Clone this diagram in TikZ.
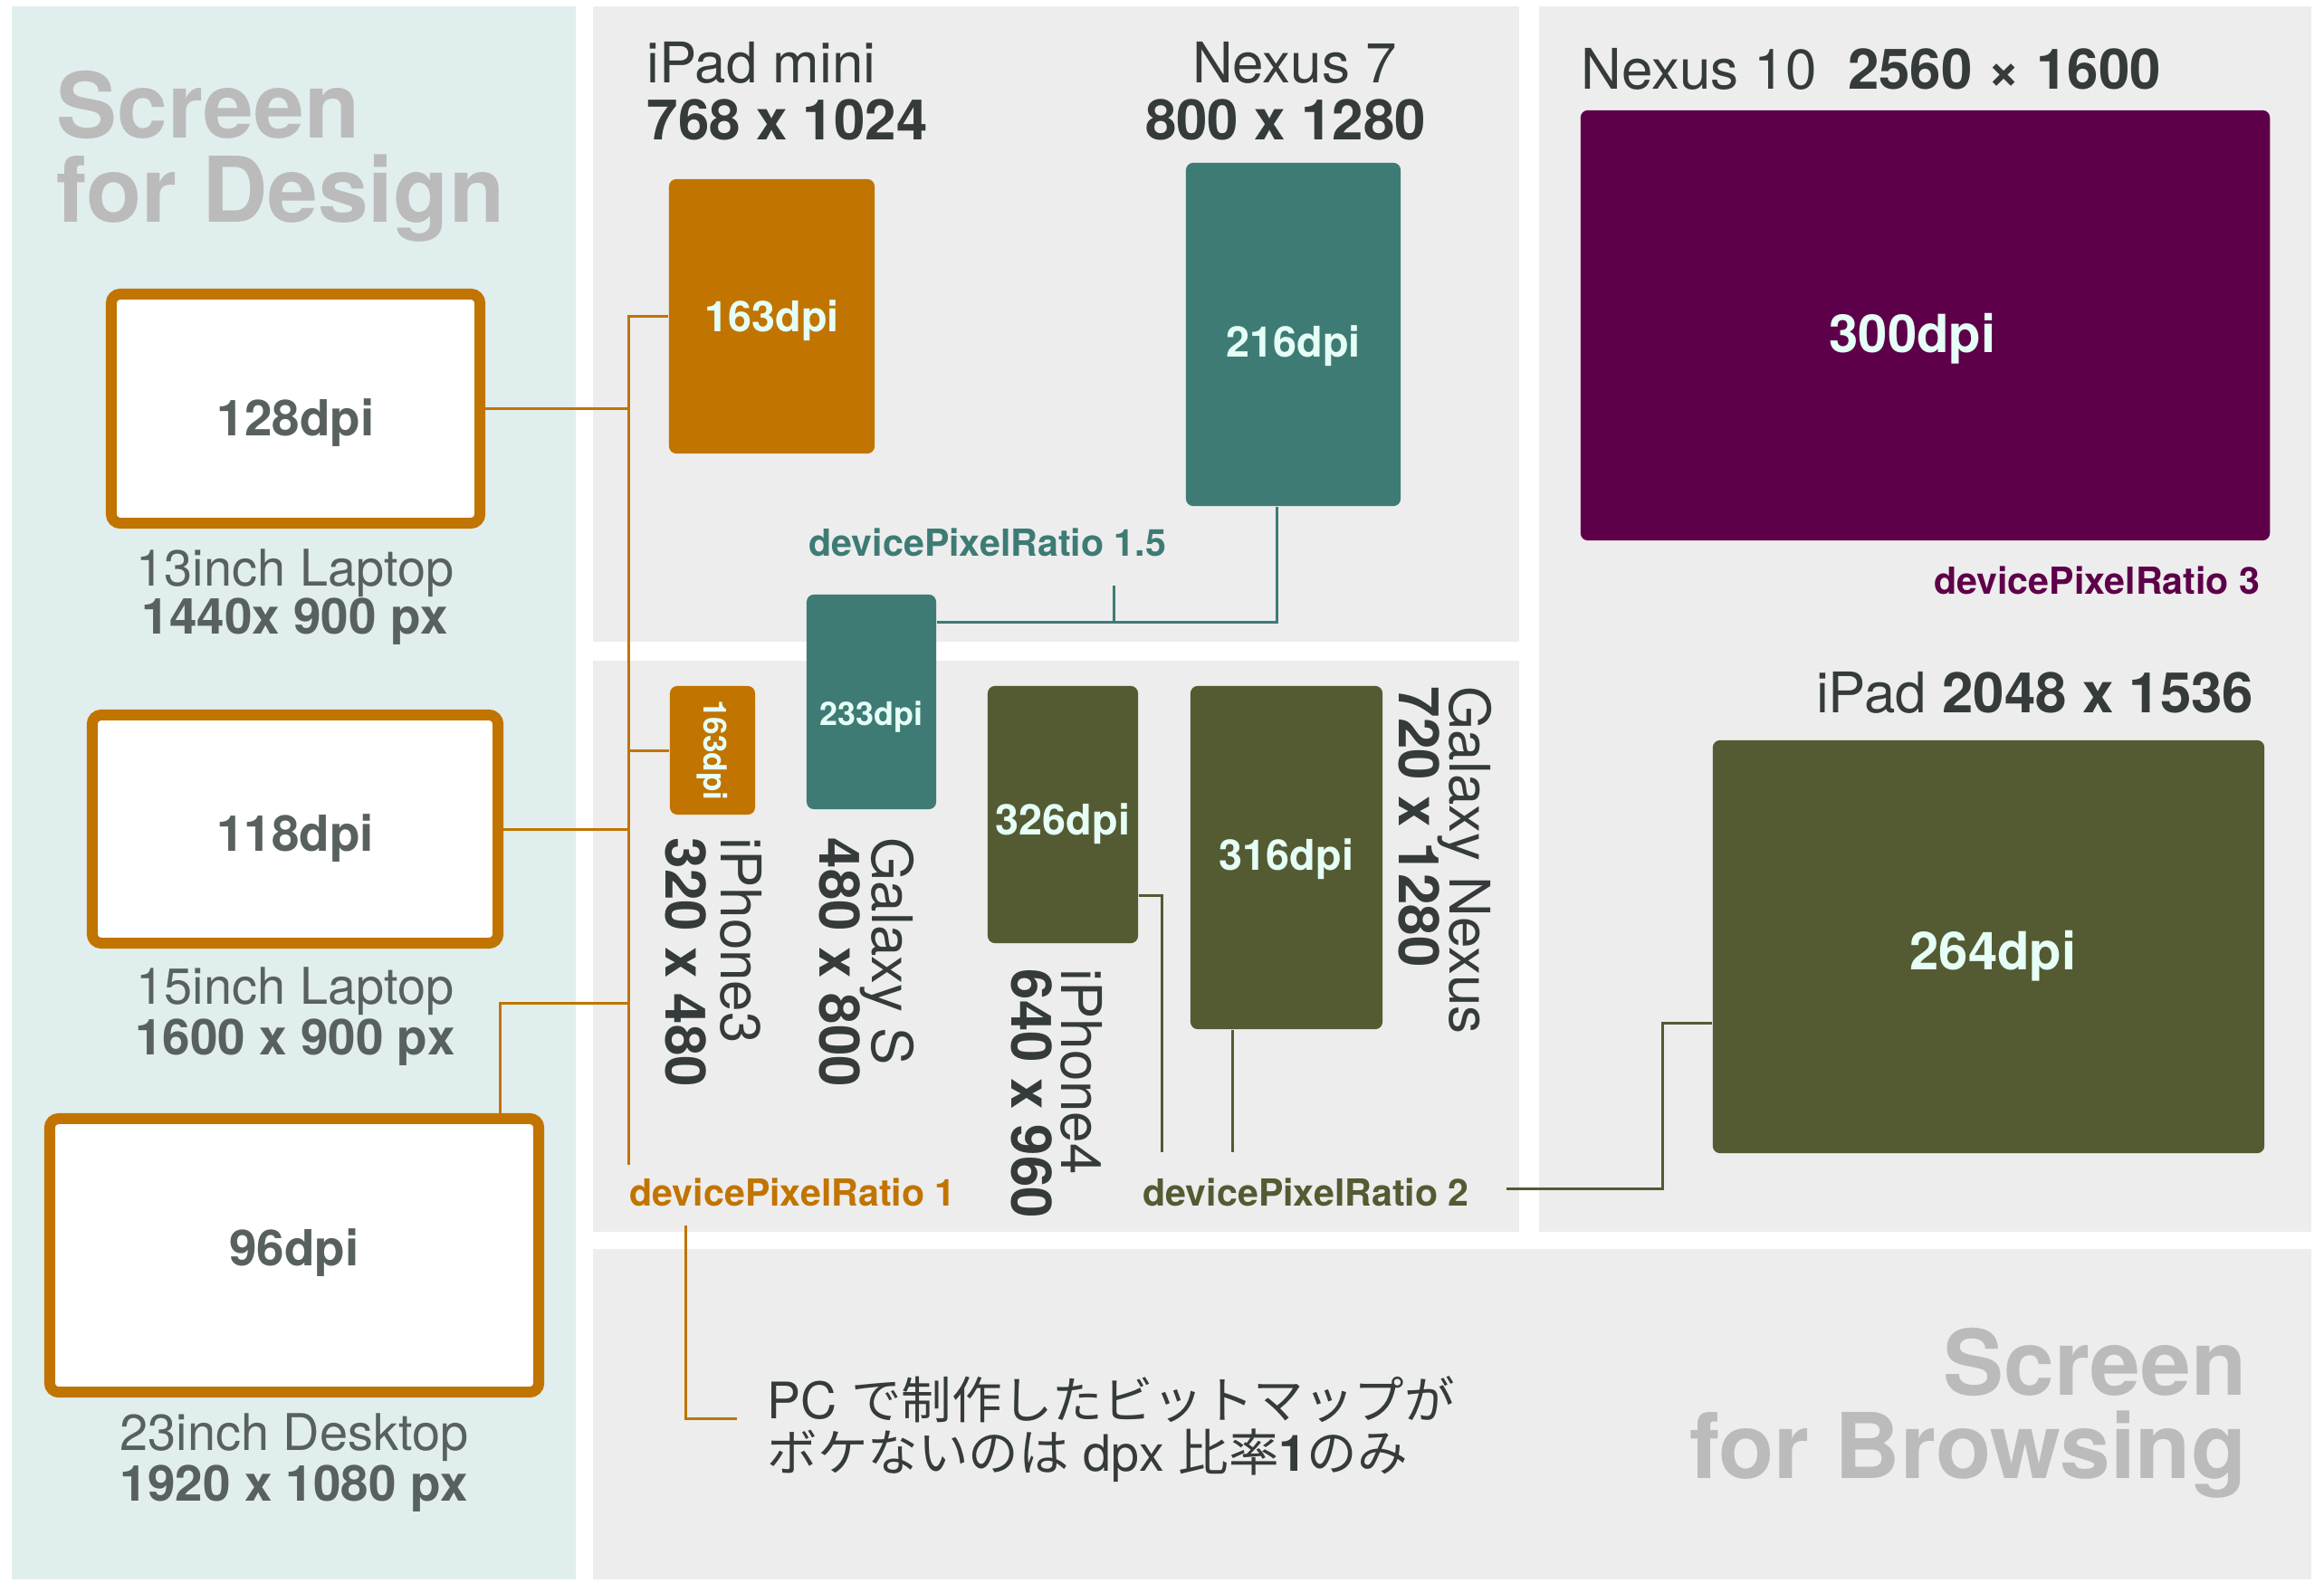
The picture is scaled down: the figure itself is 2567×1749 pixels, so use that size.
\documentclass[tikz,border=0pt]{standalone}
\usepackage{fontspec}
\setmainfont{TeX Gyre Heros}
\newfontfamily\japo{Noto Sans CJK JP}

\definecolor{fondoazul}{rgb}{0.882, 0.933, 0.933}
\definecolor{fondogris}{rgb}{0.929, 0.929, 0.929}
\definecolor{naranja}{rgb}{0.757, 0.455, 0}
\definecolor{verde}{rgb}{0.243, 0.482, 0.459}
\definecolor{morado}{rgb}{0.369, 0, 0.286}
\definecolor{oliva}{rgb}{0.329, 0.353, 0.196}
\definecolor{grisclaro}{rgb}{0.733, 0.733, 0.733}
\definecolor{oscuro}{rgb}{0.208, 0.231, 0.231}
\definecolor{medio}{rgb}{0.345, 0.38, 0.373}
\definecolor{menta}{rgb}{0.898, 1, 0.965}

\begin{document}
\begin{tikzpicture}[x=0.01cm, y=-0.01cm,
        caja/.style={fill=#1, rounded corners=0.08cm, inner sep=0},
        dpi/.style={inner sep=0, text=menta, font=\bfseries\fontsize{#1}{#1}\selectfont},
        pantalla/.style={draw=naranja, line width=0.12cm, fill=white, rounded corners=0.1cm, inner sep=0},
        dpipc/.style={inner sep=0, text=medio, font=\bfseries\fontsize{15.6}{16}\selectfont},
        leyenda/.style={inner sep=0, text=medio, font=\fontsize{15.9}{16}\selectfont},
        leyendab/.style={inner sep=0, text=medio, font=\bfseries\fontsize{15.6}{16}\selectfont},
        ligero/.style={inner sep=0, text=oscuro, font=\fontsize{17.6}{18}\selectfont},
        grueso/.style={inner sep=0, text=oscuro, font=\bfseries\fontsize{17.6}{18}\selectfont},
        ratio/.style={inner sep=0, text=#1, font=\bfseries\fontsize{11.7}{12}\selectfont},
        titulo/.style={inner sep=0, text=grisclaro, font=\bfseries\fontsize{28.5}{26.5}\selectfont},
        nota/.style={inner sep=0, text=oscuro, font=\fontsize{15.8}{16.5}\selectfont},
        linea/.style={draw=#1, line width=0.03cm}]
        \useasboundingbox (0, 0) rectangle (2567, 1749);
        \fill[white] (0, 0) rectangle (2567, 1749);

        % paneles
        \fill[fondoazul] (13, 7) rectangle (636, 1745);
        \fill[fondogris] (655, 7) rectangle (1678, 709);
        \fill[fondogris] (655, 730) rectangle (1678, 1361);
        \fill[fondogris] (1700, 7) rectangle (2553, 1361);
        \fill[fondogris] (655, 1380) rectangle (2553, 1745);

        \node[titulo, anchor=base west] (diseno1) at (62, 153) {Screen};
        \node[titulo, anchor=base west] (diseno2) at (62, 246) {for Design};
        \node[titulo, anchor=base east] (navega1) at (2482, 1541) {Screen};
        \node[titulo, anchor=base east] (navega2) at (2482, 1633) {for Browsing};

        % pantallas de PC
        \node[pantalla, minimum width=4.07cm, minimum height=2.53cm] (lap13) at (326.5, 451.5) {};
        \node[pantalla, minimum width=4.48cm, minimum height=2.52cm] (lap15) at (326, 916) {};
        \node[pantalla, minimum width=5.40cm, minimum height=3.02cm] (escritorio) at (325, 1387) {};
        \node[dpipc] (lap13t) at (326.5, 467) {128dpi};
        \node[dpipc] (lap15t) at (326, 926) {118dpi};
        \node[dpipc] (escritoriot) at (325, 1384) {96dpi};

        \node[leyenda, anchor=base] (lap13a) at (326, 647) {13inch Laptop};
        \node[leyendab, anchor=base] (lap13b) at (326, 700) {1440x 900 px};
        \node[leyenda, anchor=base] (lap15a) at (326, 1109) {15inch Laptop};
        \node[leyendab, anchor=base] (lap15b) at (326, 1165) {1600 x 900 px};
        \node[leyenda, anchor=base] (escritorioa) at (325, 1602) {23inch Desktop};
        \node[leyendab, anchor=base] (escritoriob) at (325, 1658) {1920 x 1080 px};

        % dispositivos
        \foreach \nombre/\x/\y/\w/\h/\col/\tam/\dx/\dy/\valor in {
                ipadmini/852.5/349.5/2.27/3.03/naranja/13.3/0/5/163dpi,
                nexus7/1428.5/369.5/2.37/3.79/verde/13.3/0/13/216dpi,
                nexus10/2126.5/359.5/7.61/4.75/morado/16.5/-14/15/300dpi,
                galaxys/962.5/775.5/1.43/2.37/verde/10.2/0/17/233dpi,
                iphone4/1174/900/1.66/2.84/oliva/13.3/0/10/326dpi,
                galaxynexus/1421/947.5/2.12/3.79/oliva/13.3/0/2/316dpi,
                ipad/2196.5/1046/6.09/4.56/oliva/16.5/5/10/264dpi}
        {
        \node[caja=\col, minimum width=\w cm, minimum height=\h cm] (\nombre) at (\x, \y) {};
        \node[dpi=\tam] (\nombre t) at (\x + \dx, \y + \dy) {\valor};
        }
        \node[caja=naranja, minimum width=0.94cm, minimum height=1.42cm] (iphone3) at (787, 829) {};
        \node[dpi=10, rotate=-90] (iphone3t) at (787, 829) {163dpi};

        \node[ligero, anchor=base west] (ipadminia) at (714, 92) {iPad mini};
        \node[grueso, anchor=base west] (ipadminib) at (714, 155) {768 x 1024};
        \node[ligero, anchor=base] (nexus7a) at (1430, 92) {Nexus 7};
        \node[grueso, anchor=base] (nexus7b) at (1420, 155) {800 x 1280};
        \node[ligero, anchor=base west] (nexus10a) at (1746, 99) {Nexus 10~~\textbf{2560 × 1600}};
        \node[ligero, anchor=base east] (ipada) at (2490, 787) {iPad \textbf{2048 x 1536}};

        \node[ligero, rotate=-90, anchor=base west] (iphone3a) at (796, 925) {iPhone3};
        \node[grueso, rotate=-90, anchor=base west] (iphone3b) at (735, 925) {320 x 480};
        \node[ligero, rotate=-90, anchor=base west] (galaxysa) at (963, 925) {Galaxy S};
        \node[grueso, rotate=-90, anchor=base west] (galaxysb) at (905, 925) {480 x 800};
        \node[ligero, rotate=-90, anchor=base west] (iphone4a) at (1172, 1070) {iPhone4};
        \node[grueso, rotate=-90, anchor=base west] (iphone4b) at (1117, 1070) {640 x 960};
        \node[ligero, rotate=-90, anchor=base west] (galaxynexusa) at (1601, 758) {Galaxy Nexus};
        \node[grueso, rotate=-90, anchor=base west] (galaxynexusb) at (1545, 758) {720 x 1280};

        \node[ratio=verde, anchor=base west] (dpr15) at (893, 614) {devicePixelRatio 1.5};
        \node[ratio=naranja, anchor=base west] (dpr1) at (695, 1332) {devicePixelRatio 1};
        \node[ratio=oliva, anchor=base west] (dpr2) at (1262, 1332) {devicePixelRatio 2};
        \node[ratio=morado, anchor=base east] (dpr3) at (2497, 656) {devicePixelRatio 3};

        \node[nota, anchor=base west] (nota1) at (847, 1567) {PC {\japo で制作したビットマップが}};
        \node[nota, anchor=base west] (nota2) at (847, 1625) {{\japo ボケないのは} dpx {\japo 比率}\textbf{1}{\japo のみ}};

        % conexiones ratio 1
        \coordinate (bus1) at (694, 1287);
        \coordinate (codo) at (552, 1108);
        \coordinate (notaini) at (757, 1354);
        \coordinate (notafin) at (814, 1567);
        \draw[linea=naranja] (ipadmini.west) -| (bus1);
        \draw[linea=naranja] (lap13.east) -- (lap13.east -| bus1);
        \draw[linea=naranja] (lap15.east) -- (lap15.east -| bus1);
        \draw[linea=naranja] (iphone3.west) -- (iphone3.west -| bus1);
        \draw[linea=naranja] (escritorio.north -| codo) |- (bus1 |- codo);
        \draw[linea=naranja] (notaini) |- (notafin);

        % conexiones ratio 1.5
        \coordinate (t1) at (1410, 687);
        \coordinate (marca) at (1230, 647);
        \draw[linea=verde] (nexus7.south -| t1) |- (galaxys.east |- t1);
        \draw[linea=verde] (marca) -- (marca |- t1);

        % conexiones ratio 2
        \coordinate (o1) at (1283, 989);
        \coordinate (o2) at (1283, 1273);
        \coordinate (o3) at (1361, 1273);
        \coordinate (o4) at (1836, 1130);
        \coordinate (o5) at (1664, 1313);
        \draw[linea=oliva] (o1 -| iphone4.east) -- (o1) -- (o2);
        \draw[linea=oliva] (galaxynexus.south -| o3) -- (o3);
        \draw[linea=oliva] (o4 -| ipad.west) -- (o4) |- (o5);
    \end{tikzpicture}
\end{document}
